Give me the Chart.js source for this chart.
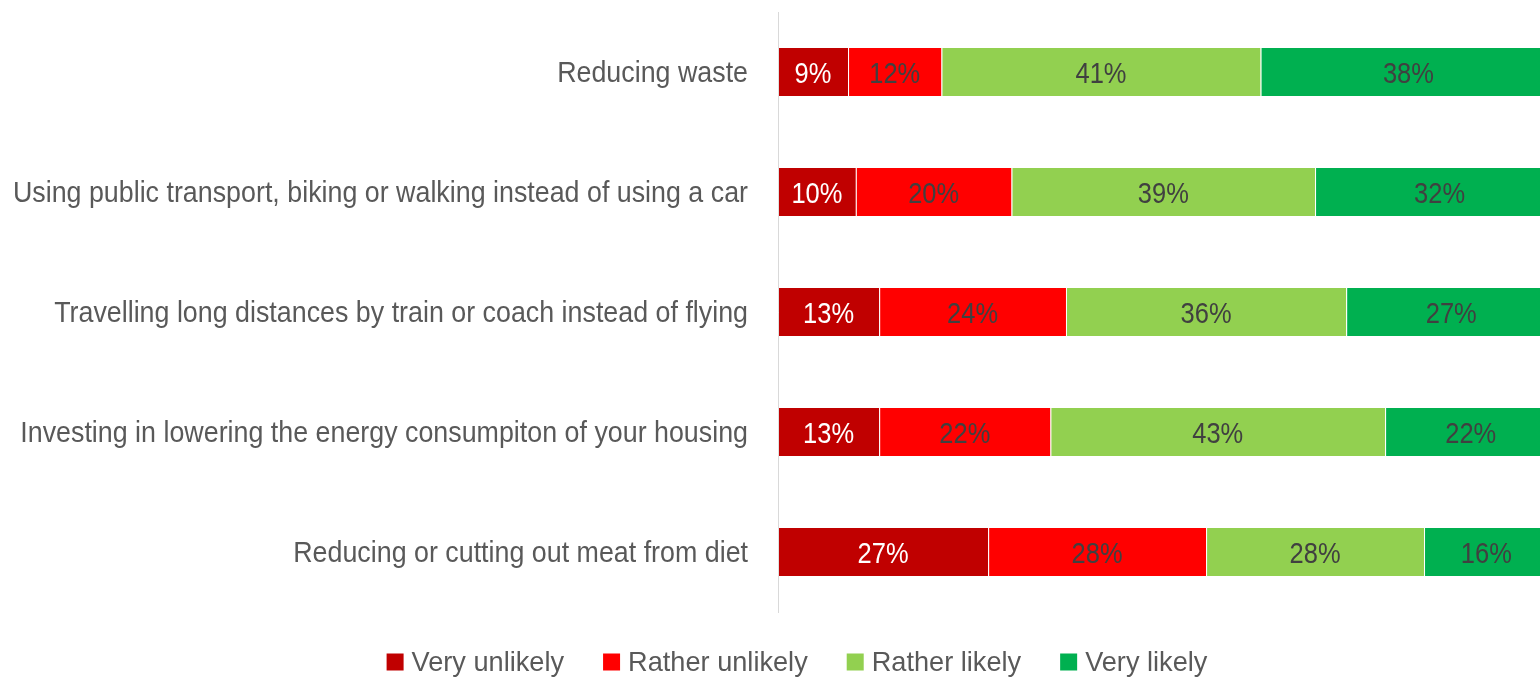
<!DOCTYPE html>
<html>
<head>
<meta charset="utf-8">
<script src="https://cdn.jsdelivr.net/npm/chart.js@4/dist/chart.umd.min.js"></script>
<style>
  html, body { margin: 0; padding: 0; background: #fff; overflow: hidden; }
  #wrap { width: 1540px; height: 678px; }
</style>
</head>
<body>
<div id="wrap"><canvas id="chart" width="1540" height="678"></canvas></div>
<script>
// Dati
const categories = [
  'Reducing waste',
  'Using public transport, biking or walking instead of using a car',
  'Travelling long distances by train or coach instead of flying',
  'Investing in lowering the energy consumpiton of your housing',
  'Reducing or cutting out meat from diet',
];
const seriesNames   = ['Very unlikely', 'Rather unlikely', 'Rather likely', 'Very likely'];
const veryUnlikely   = [9, 10, 13, 13, 27];
const ratherUnlikely = [12, 20, 24, 22, 28];
const ratherLikely   = [41, 39, 36, 43, 28];
const veryLikely     = [38, 32, 27, 22, 16];

const COLORS = ['#C00000', '#FF0000', '#92D050', '#00B050'];
const LABEL_COLORS = ['#ffffff', '#404040', '#404040', '#404040'];
const TEXT_COLOR = '#595959';
const FONT = "'Liberation Sans', Arial, sans-serif";

// Testo "stretto" (simula Arial Narrow) con scala orizzontale
function narrowText(ctx, text, x, y, sx, align) {
  ctx.save();
  ctx.translate(x, y);
  ctx.scale(sx, 1);
  ctx.textAlign = align;
  ctx.fillText(text, 0, 0);
  ctx.restore();
}

// ── Etichette categorie, percentuali e legenda ──
const customText = {
  id: 'customText',
  afterDatasetsDraw(chart) {
    const { ctx } = chart;
    const yScale = chart.scales.y;
    ctx.save();
    ctx.textBaseline = 'middle';

    // categorie (asse y)
    ctx.font = `29px ${FONT}`;
    ctx.fillStyle = TEXT_COLOR;
    categories.forEach((c, i) => {
      narrowText(ctx, c, yScale.right - 30, yScale.getPixelForValue(i) + 2, 0.925, 'right');
    });

    // percentuali dentro le barre
    ctx.font = `30px ${FONT}`;
    chart.data.datasets.forEach((ds, i) => {
      chart.getDatasetMeta(i).data.forEach((bar, j) => {
        ctx.fillStyle = LABEL_COLORS[i];
        narrowText(ctx, ds.data[j] + '%', (bar.x + bar.base) / 2, bar.y + 3, 0.85, 'center');
      });
    });

    // legenda in basso
    const sx = 0.97, box = 17, gapBox = 8, gapItem = 39;
    ctx.font = `28px ${FONT}`;
    const widths = seriesNames.map(n => ctx.measureText(n).width * sx);
    const total = widths.reduce((a, w) => a + box + gapBox + w, 0) + gapItem * (seriesNames.length - 1);
    let x = 797 - total / 2;
    const ly = chart.chartArea.bottom + 50;
    seriesNames.forEach((n, i) => {
      ctx.fillStyle = COLORS[i];
      ctx.fillRect(x, ly - box / 2, box, box);
      x += box + gapBox;
      ctx.fillStyle = TEXT_COLOR;
      narrowText(ctx, n, x, ly + 1, sx, 'left');
      x += widths[i] + gapItem;
    });
    ctx.restore();
  },
};

const allSeries = [veryUnlikely, ratherUnlikely, ratherLikely, veryLikely];

new Chart(document.getElementById('chart'), {
  type: 'bar',
  data: {
    labels: categories,
    datasets: allSeries.map((vals, i) => ({
      label: seriesNames[i],
      data: vals,
      backgroundColor: COLORS[i],
      borderColor: 'rgba(255,255,255,0.18)',
      borderWidth: { left: 1, right: 0, top: 0, bottom: 0 },
      borderSkipped: false,
      categoryPercentage: 0.4,
      barPercentage: 1.0,
    })),
  },
  options: {
    indexAxis: 'y',
    responsive: false,
    animation: false,
    layout: { padding: { left: 0, right: 0, top: 12, bottom: 66 } },
    scales: {
      x: {
        stacked: true,
        display: false,
        min: 0,
        max: 97.9,
      },
      y: {
        stacked: true,
        grid: { display: false, drawTicks: false },
        border: { display: true, color: '#d9d9d9', width: 1 },
        ticks: { display: false },
        afterFit: s => { s.width = 778; },
      },
    },
    plugins: {
      legend: { display: false },
      tooltip: { enabled: false },
    },
  },
  plugins: [customText],
});
</script>
</body>
</html>
